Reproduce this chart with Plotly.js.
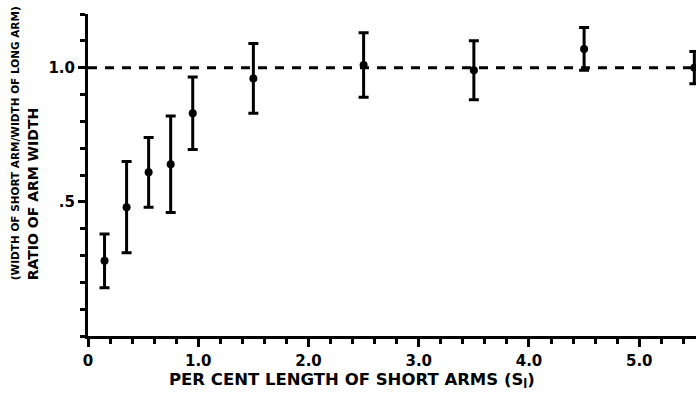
<!DOCTYPE html>
<html>
<head>
<meta charset="utf-8">
<script src="https://cdn.plot.ly/plotly-3.0.1.min.js"></script>
<style>html,body{margin:0;padding:0;background:#fff;}#chart{width:696px;height:394px;}</style>
</head>
<body>
<div id="chart"></div>
<script>
// Data
var shortArmPct = [0.15, 0.35, 0.55, 0.75, 0.95, 1.5, 2.5, 3.5, 4.5, 5.5];
var widthRatio  = [0.28, 0.48, 0.61, 0.64, 0.83, 0.96, 1.01, 0.99, 1.07, 1.00];
var ratioError  = [0.10, 0.17, 0.13, 0.18, 0.135, 0.13, 0.12, 0.11, 0.08, 0.06];
var referenceRatio = 1.0;

var xTickVals = [0, 1, 2, 3, 4, 5];
var xTickText = ['0', '1.0', '2.0', '3.0', '4.0', '5.0'];
var yTickVals = [0.5, 1.0];
var yTickText = ['.5', '1.0'];

var FONT = 'DejaVu Sans, sans-serif';

var trace = {
  x: shortArmPct,
  y: widthRatio,
  type: 'scatter',
  mode: 'markers',
  marker: {color: '#000', size: 8},
  error_y: {type: 'data', array: ratioError, visible: true, color: '#000', thickness: 3, width: 5},
  cliponaxis: false,
  showlegend: false
};

var layout = {
  width: 696, height: 394,
  margin: {l: 88, r: 0, t: 14, b: 58},
  paper_bgcolor: '#fff', plot_bgcolor: '#fff',
  font: {family: FONT, color: '#000', size: 15, weight: 'bold'},
  xaxis: {
    range: [0, 5.515], showgrid: false, zeroline: false,
    showline: true, linecolor: '#000', linewidth: 3,
    tickmode: 'array', tickvals: xTickVals, ticktext: xTickText,
    ticks: 'outside', ticklen: 8, tickwidth: 3, tickcolor: '#000',
    ticklabelstandoff: 1,
    tickfont: {family: FONT, size: 15, color: '#000', weight: 'bold'},
    minor: {dtick: 0.2, tick0: 0, ticks: 'outside', ticklen: 5, tickwidth: 3, tickcolor: '#000', showgrid: false}
  },
  yaxis: {
    range: [0, 1.2], showgrid: false, zeroline: false,
    showline: true, linecolor: '#000', linewidth: 3,
    tickmode: 'array', tickvals: yTickVals, ticktext: yTickText,
    ticks: 'outside', ticklen: 7, tickwidth: 3, tickcolor: '#000',
    tickfont: {family: FONT, size: 15, color: '#000', weight: 'bold'},
    minor: {dtick: 0.1, tick0: 0, ticks: 'outside', ticklen: 5, tickwidth: 3, tickcolor: '#000', showgrid: false}
  },
  shapes: [{
    type: 'line', xref: 'paper', x0: 0, x1: 1, yref: 'y', y0: referenceRatio, y1: referenceRatio,
    line: {color: '#000', width: 3, dash: '9px,8px'}
  }],
  annotations: [
    {text: 'PER CENT LENGTH OF SHORT ARMS (S<sub>l</sub>)', xref: 'paper', yref: 'paper',
     x: 0.435, y: -0.1, xanchor: 'center', yanchor: 'top', showarrow: false,
     font: {family: FONT, size: 16.5, color: '#000', weight: 'bold'}},
    {text: '<span style="font-size:10.5px">(WIDTH OF SHORT ARM/WIDTH OF LONG ARM)</span><br>RATIO OF ARM WIDTH',
     xref: 'paper', yref: 'paper', textangle: -90, align: 'left',
     x: -0.104, y: 0.598, xanchor: 'center', yanchor: 'middle', showarrow: false,
     font: {family: FONT, size: 14, color: '#000', weight: 'bold'}}
  ]
};

Plotly.newPlot('chart', [trace], layout, {displayModeBar: false, staticPlot: true});
</script>
</body>
</html>
